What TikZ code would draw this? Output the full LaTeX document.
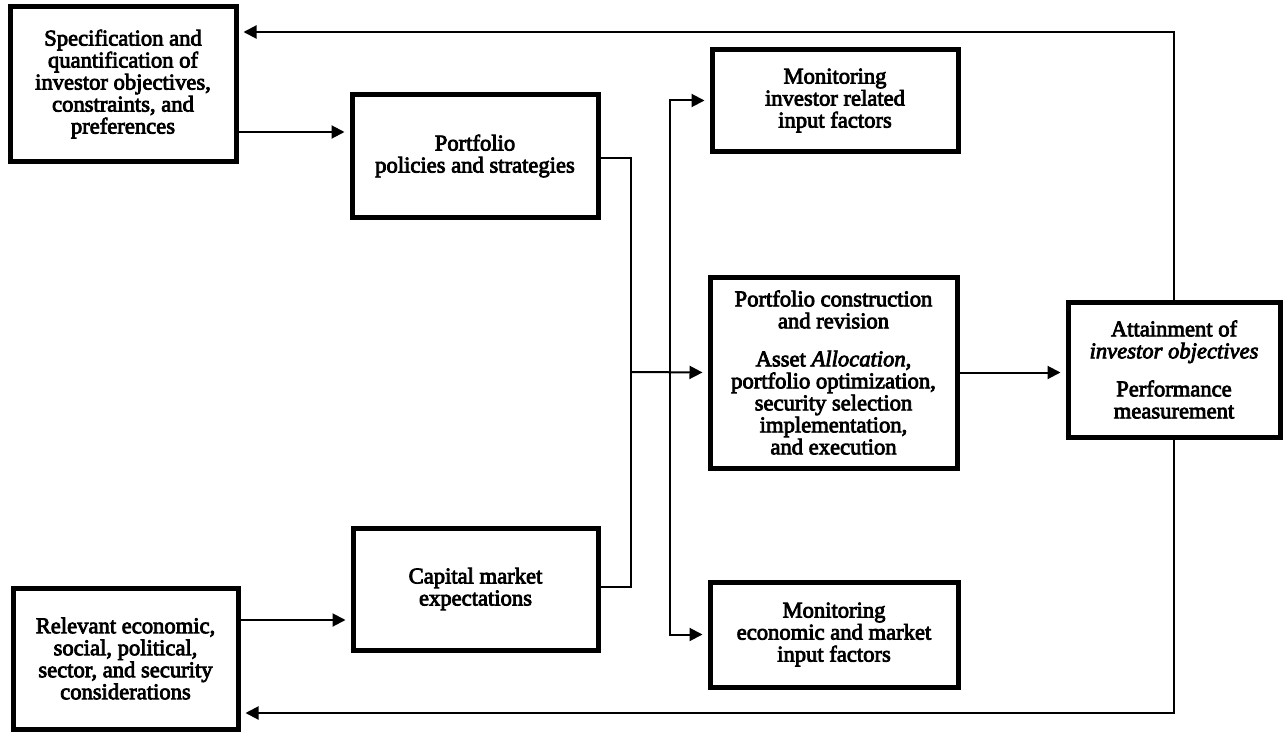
\documentclass[tikz,border=0pt]{standalone}
\usepackage{fontspec}
\setmainfont{Liberation Serif}[FakeBold=3.5]
\usetikzlibrary{arrows.meta,calc}

\begin{document}
\begin{tikzpicture}[x=0.5pt,y=-0.5pt,
  box/.style={draw,line width=2.5pt,align=center,inner sep=0pt,
    font=\fontsize{11.3}{11}\selectfont},
  link/.style={line width=1pt},
  arr/.style={link,-{Triangle[length=6.5pt,width=6.5pt]},shorten >=2.5pt}]
\useasboundingbox (0,0) rectangle (1284,733);
% boxes
\node[box,minimum width=113pt,minimum height=77pt] (spec) at (123,84)
  {Specification and\\ quantification of\\ investor objectives,\\ constraints, and\\ preferences};
\node[box,minimum width=123pt,minimum height=61pt] (policy) at (475,156)
  {Portfolio\\ policies and strategies};
\node[box,minimum width=122.5pt,minimum height=61pt] (capmkt) at (475.5,589)
  {Capital market\\ expectations};
\node[box,minimum width=112.5pt,minimum height=70.5pt] (econ) at (125.5,658.5)
  {Relevant economic,\\ social, political,\\ sector, and security\\ considerations};
\node[box,minimum width=123pt,minimum height=50.5pt] (moninv) at (835,100.5)
  {Monitoring\\ investor related\\ input factors};
\node[box,minimum width=123.5pt,minimum height=95.5pt] (constr) at (833.5,372.5)
  {Portfolio construction\\ and revision\\[8pt] Asset \textit{Allocation},\\ portfolio optimization,\\
   security selection\\ implementation,\\ and execution};
\node[box,minimum width=124pt,minimum height=52.5pt] (monecon) at (834,634.5)
  {Monitoring\\ economic and market\\ input factors};
\node[box,minimum width=106pt,minimum height=67.5pt] (attain) at (1174,369.5)
  {Attainment of\\ \textit{investor objectives}\\[8pt] Performance\\ measurement};
% connectors
\coordinate (split) at (631,372);
\coordinate (fan) at (670,372);
\draw[arr] (spec.east |- 0,132) -- (policy.west |- 0,132);
\draw[arr] (econ.east |- 0,620) -- (capmkt.west |- 0,620);
\draw[link] (policy.east |- 0,158) -| (split) |- (capmkt.east |- 0,587);
\draw[arr] (split) -- (constr.west);
\draw[arr] (fan) |- (moninv.west);
\draw[arr] (fan) |- (monecon.west);
\draw[arr] (constr.east) -- (constr.east -| attain.west);
%\draw[arr] (attain.north) |- (spec.east);
\draw[arr] (attain.north) |- (spec.east |- 0,32);
\draw[arr] (attain.south) |- (econ.east |- 0,713);
\end{tikzpicture}
\end{document}
